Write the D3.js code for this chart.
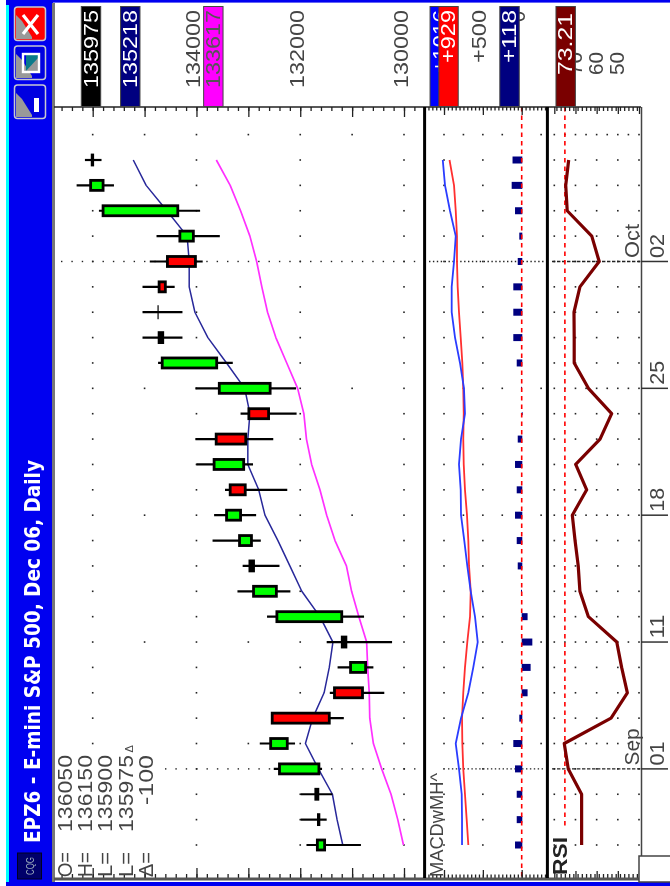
<!DOCTYPE html>
<html><head><meta charset="utf-8">
<script src="https://cdnjs.cloudflare.com/ajax/libs/d3/7.8.5/d3.min.js"></script>
<style>html,body{margin:0;padding:0;background:#fff;overflow:hidden}svg{display:block;filter:blur(.4px)}text{font-family:"Liberation Sans",Arial,sans-serif}</style>
</head><body><svg id="c" width="670" height="886"></svg>
<script>
// ---------- data (oldest to newest) ----------
const dates=["Aug 29","Aug 30","Aug 31","Sep 01","Sep 05","Sep 06","Sep 07","Sep 08","Sep 11","Sep 12","Sep 13","Sep 14","Sep 15","Sep 18","Sep 19","Sep 20","Sep 21","Sep 22","Sep 25","Sep 26","Sep 27","Sep 28","Sep 29","Oct 02","Oct 03","Oct 04","Oct 05","Oct 06"];
const opens =[131530,131650,131700,131640,132250,132540,131340,130740,131190,131200,132460,132900,132940,133150,133350,133090,133620,132990,132580,133610,134720,134740,134720,134560,134060,134360,135800,136010];
const highs =[131880,131990,131990,132510,132780,132540,131430,131280,131490,132640,133210,133110,133690,133660,133450,134000,134020,133150,134020,134740,135040,135040,135040,134900,134770,135880,136310,136150];
const lows  =[130830,131490,131380,131580,132100,131160,130380,130590,130230,130770,132190,132400,132760,132850,132250,132910,132520,132070,132080,133300,134270,134270,134420,133880,133550,133930,135590,135830];
const closes=[131670,131640,131660,132400,132570,131440,130800,131030,131120,132450,132900,132970,133170,133420,133060,133660,133050,132610,133560,134660,134650,134740,134600,134020,134320,135800,136040,136000];
const maFast=[131180,131290,131380,131650,131900,131760,131540,131440,131370,131620,131970,132200,132430,132680,132800,133010,133010,132970,133070,133420,133780,134030,134140,134140,134180,134570,134970,135218];
const maSlow=[130010,130120,130250,130430,130590,130660,130670,130700,130720,130870,131010,131110,131330,131490,131620,131780,131880,131930,132050,132260,132470,132630,132740,132840,132970,133150,133350,133617];
const macdLine=[768,768,772,807,849,781,687,623,566,601,656,700,739,781,785,807,781,730,743,794,858,901,901,871,849,923,987,1016];
const macdSignal=[687,708,730,752,764,768,752,730,700,665,656,678,687,704,730,746,752,746,752,764,785,807,824,833,833,849,871,929];
const macdHist=[86,64,64,86,108,31,-68,-107,-129,-68,9,51,64,86,64,86,51,-4,9,64,108,108,108,51,31,86,129,118];
const rsiValues=[67.1,67.1,67.1,73.4,75.3,53.2,45.5,48.2,50.5,63.9,67.9,68.7,70.2,71.5,64.7,69.9,58.4,52.9,63.9,70.6,70.6,70.7,67.9,58.8,62.3,73.9,74.6,73.21];
const priceTickLabels=["134000","132000","130000"];
const macdTickLabels=["+500","0"];
const rsiTickLabels=["70","60","50"];
const dateLabels=[["Oct 02","02","Oct"],["Sep 25","25",""],["Sep 18","18",""],["Sep 11","11",""],["Sep 01","01","Sep"]];
const legendNames=["O=","H=","L=","L=","Δ="];
const legendValues=["136050","136150","135900","135975","-100"];
const titleText="EPZ6 - E-mini S&P 500, Dec 06, Daily";

// ---------- scales ----------
const svg=d3.select("#c");
const T=d3.scalePoint().domain(dates).range([845,160]);
const P=d3.scaleLinear().domain([130000,136000]).range([404,92.7]);
const M=d3.scaleLinear().domain([0,1000]).range([521.7,444]);
const R=d3.scaleLinear().domain([40,80]).range([639,554.3]);
const TOP=107,BOT=878,INK="#444";
const rowY=[134.6].concat(dates.map(d=>T(d)));
const weekRows=[134.6,T("Sep 25"),T("Sep 18"),T("Sep 11"),T("Sep 05")];

function vt(x,y,s,o={}){
  const t=svg.append("text").attr("transform",`translate(${x},${y}) rotate(-90)`)
    .attr("font-size",o.size||19.5).attr("fill",o.fill||INK).attr("font-weight",o.weight||"normal").text(s);
  if(o.len)t.attr("textLength",o.len).attr("lengthAdjust","spacingAndGlyphs");
  if(o.family)t.style("font-family",o.family);
  return t;
}
// ---------- window frame ----------
svg.append("rect").attr("x",6).attr("y",0).attr("width",664).attr("height",2.6).attr("fill","#0000f0");
svg.append("rect").attr("x",6).attr("y",2).attr("width",47).attr("height",884).attr("fill","#0000f0");
svg.append("rect").attr("x",6).attr("y",5).attr("width",3).attr("height",877).attr("fill","#00ffff");
svg.append("rect").attr("x",6).attr("y",882).attr("width",664).attr("height",4).attr("fill","#0000f0");
svg.append("rect").attr("x",52).attr("y",3).attr("width",3).attr("height",879).attr("fill","#777");

// ---------- dot grid ----------
const priceCols=[136000,134000,132000,130000], priceWeek=[135000,133000,131000];
const macdCols=[1000,500], macdWeek=[750,250,-250];
const rsiCols=[80,70,60,50,40], rsiWeek=[75,65,55,45];
const dotData=[];
rowY.forEach(y=>{
  const wk=weekRows.includes(y);
  priceCols.concat(wk?priceWeek:[]).forEach(v=>dotData.push([P(v),y]));
  macdCols.concat(wk?macdWeek:[]).forEach(v=>dotData.push([M(v),y]));
  rsiCols.concat(wk?rsiWeek:[]).forEach(v=>dotData.push([R(v),y]));
});
svg.append("g").selectAll("rect").data(dotData.filter(d=>!(d[0]<160&&d[1]>738&&(d[1]>750||d[0]>120)))).join("rect")
  .attr("x",d=>d[0]-.8).attr("y",d=>d[1]-.8).attr("width",1.6).attr("height",1.6).attr("fill","#222");

// ---------- dotted date rows ----------
[["Oct 02",61.7,429],["Sep 01",165.7,448]].forEach(([d,x0,m0])=>{
  const y=T(d);
  const pv=d3.range(P.invert(x0),P.invert(415),-200);
  svg.append("g").selectAll("rect").data(pv).join("rect").attr("x",v=>P(v)-.7).attr("y",y-.7).attr("width",1.4).attr("height",1.4).attr("fill","#222");
  svg.append("line").attr("x1",m0).attr("x2",545).attr("y1",y).attr("y2",y).attr("stroke","#222").attr("stroke-width",1.3).attr("stroke-dasharray","1.4,2.5");
  svg.append("line").attr("x1",552).attr("x2",641).attr("y1",y).attr("y2",y).attr("stroke","#222").attr("stroke-width",1.3).attr("stroke-dasharray","3.4,1.6");
});

// ---------- reference lines ----------
svg.append("line").attr("x1",R(75)).attr("x2",R(75)).attr("y1",TOP).attr("y2",828).attr("stroke","#f00").attr("stroke-width",1.6).attr("stroke-dasharray","4.5,4");

// ---------- lines ----------
function vline(arr,sc,color,w){
  svg.append("path").datum(arr).attr("fill","none").attr("stroke",color).attr("stroke-width",w).attr("stroke-linejoin","round")
    .attr("d",d3.line().x(v=>sc(v)).y((v,i)=>T(dates[i])));
}
vline(maSlow,P,"#ff30ff",1.7);

// MACD histogram
svg.append("g").selectAll("rect").data(macdHist).join("rect")
  .attr("x",v=>Math.min(M(v),M(0)))
  .attr("width",v=>Math.max(1,Math.abs(M(v)-M(0))+(Math.abs(v)>15?.6:0)))
  .attr("y",(v,i)=>T(dates[i])-(Math.abs(v)<15?1.5:3.5)).attr("height",v=>Math.abs(v)<15?3:7).attr("fill","#000080");
svg.append("line").attr("x1",M(0)).attr("x2",M(0)).attr("y1",TOP).attr("y2",BOT).attr("stroke","#f00").attr("stroke-width",1.6).attr("stroke-dasharray","4.5,4");
vline(macdSignal,M,"#ff3030",1.8);
vline(macdLine,M,"#2a3cff",1.8);
vline(rsiValues,R,"#7a0000",3.2);
vline(maFast,P,"#28289a",1.5);

// ---------- candlesticks ----------
const bars=dates.map((d,i)=>({d,o:opens[i],h:highs[i],l:lows[i],c:closes[i]}));
const gc=svg.append("g");
gc.selectAll("line").data(bars).join("line").attr("x1",b=>P(b.h)).attr("x2",b=>P(b.l)).attr("y1",b=>T(b.d)).attr("y2",b=>T(b.d)).attr("stroke","#000").attr("stroke-width",2.2);
gc.selectAll("rect").data(bars).join("rect")
  .attr("x",b=>P(Math.max(b.o,b.c))-(b.o===b.c?.6:0)).attr("width",b=>Math.max(Math.abs(P(b.o)-P(b.c)),b.o===b.c?1.2:0))
  .attr("y",b=>T(b.d)-(b.o===b.c?7:5)).attr("height",b=>b.o===b.c?14:10)
  .attr("fill",b=>Math.abs(b.o-b.c)<100?"#000":(b.c>b.o?"#00ff00":"#ff0000"))
  .attr("stroke","#000").attr("stroke-width",b=>b.o===b.c?0:2.8);

// ---------- axes ----------
function tickAxis(sc,vals,size,gen,y){
  const g=svg.append("g").attr("transform",`translate(0,${y})`).call(gen(sc).tickValues(vals).tickSize(size).tickFormat(""));
  g.select(".domain").remove();
  g.selectAll("line").attr("stroke","#222").attr("stroke-width",1.3);
}
[[d3.axisBottom,TOP],[d3.axisTop,BOT]].forEach(([gen,y])=>{
  tickAxis(P,d3.range(129800,136601,200),4,gen,y);
  tickAxis(P,d3.range(130000,136001,1000),10,gen,y);
  tickAxis(M,d3.range(-300,1201,50),3.5,gen,y);
  tickAxis(M,d3.range(0,1001,500),8,gen,y);
  tickAxis(R,d3.range(41,80,2),4,gen,y);
  tickAxis(R,d3.range(40,81,10),7,gen,y);
});
svg.append("line").attr("x1",54).attr("x2",641).attr("y1",TOP).attr("y2",TOP).attr("stroke","#222").attr("stroke-width",1.6);
svg.append("line").attr("x1",54).attr("x2",641).attr("y1",BOT+1).attr("y2",BOT+1).attr("stroke","#555").attr("stroke-width",3);
[424.6,547.4].forEach(x=>svg.append("line").attr("x1",x).attr("x2",x).attr("y1",TOP).attr("y2",BOT).attr("stroke","#000").attr("stroke-width",3));
svg.append("line").attr("x1",641.5).attr("x2",641.5).attr("y1",TOP).attr("y2",857).attr("stroke","#444").attr("stroke-width",1.5);

// ---------- date axis ----------
dateLabels.forEach(([d,num,mon])=>{
  const y=T(d);
  svg.append("line").attr("x1",641).attr("x2",668).attr("y1",y).attr("y2",y).attr("stroke","#333").attr("stroke-width",1.5);
  vt(663.5,y-3.5,num,{len:24});
  if(mon)vt(638.5,y-3.5,mon,{len:mon==="Oct"?34:37});
});
svg.append("rect").attr("x",639).attr("y",856).attr("width",33).attr("height",26).attr("fill","#fff").attr("stroke","#444").attr("stroke-width",1.5);

// ---------- value scale labels ----------
priceTickLabels.forEach(s=>vt(P(+s)+3.5,88,s,{len:78}));
vt(M(500)+3.5,63,macdTickLabels[0],{len:53});
vt(M(0)+3.5,22,macdTickLabels[1],{len:11});
rsiTickLabels.forEach(s=>vt(R(+s)+6.5,75,s,{len:23}));

function box(center,fill,txt,txtFill,start,len){
  svg.append("rect").attr("x",center-9.7).attr("y",6.5).attr("width",19.4).attr("height",100).attr("fill",fill).attr("stroke","#444").attr("stroke-width",1);
  if(txt)vt(center+6.8,start,txt,{len,fill:txtFill});
}
box(P(135975)-3,"#000","135975","#fff",88,78);
box(P(135218)-3,"#000080","135218","#fff",88,78);
box(P(133617)-3,"#ff00ff","133617","#555",88,78);
box(M(1016)-3,"#0000ff","+1016","#fff",73,63);
box(M(929)-1,"#ff0000","+929","#fff",63,53);
box(M(118)-3,"#000080","+118","#fff",63,53);
box(R(73.21)-3,"#7a0000","73.21","#fff",75,62);

// ---------- legend ----------
const legendX=[71.7,91.7,112.3,133,153];
legendNames.forEach((n,i)=>{
  vt(legendX[i],877,n,{len:25});
  const s=legendValues[i];
  vt(legendX[i],s.length===6?832:805,s,{len:s.length===6?77:50});
});
vt(133,752.5,"Δ",{size:11});
vt(443,877,"MACDwMH^",{size:18,len:104});
vt(567,875,"RSI",{size:20,len:38,weight:"bold",fill:"#222"});

// ---------- title bar ----------
vt(40,843,titleText,{size:21,len:383,fill:"#fff",weight:"bold",family:"'DejaVu Sans'"});
svg.append("rect").attr("x",17.5).attr("y",853).attr("width",24).attr("height",26).attr("fill","#00006a").attr("stroke","#002").attr("stroke-width",1);
vt(34,875,"CQG",{size:11,len:18,fill:"#9ab"});

// ---------- window buttons ----------
[[7,"#ff0000"],[46,"#0000e0"],[85,"#0000e0"]].forEach(([y,f])=>{
  svg.append("rect").attr("x",14.5).attr("y",y).attr("width",31).attr("height",33.5).attr("rx",3).attr("fill",f).attr("stroke","#c8c8d0").attr("stroke-width",1.5);
  svg.append("path").attr("d",`M16,${y+8}L22,${y+14}L32,${y+30}L32,${y+32}L16,${y+32}Z`).attr("fill","#999");
});
svg.append("path").attr("d","M23,15L38,34M38,15L23,34").attr("stroke","#fff").attr("stroke-width",3.2).attr("fill","none");
svg.append("rect").attr("x",26).attr("y",54).attr("width",12).attr("height",17).attr("fill","#0a7a8a");
svg.append("path").attr("d","M26,71L38,71L38,58Z").attr("fill","#999");
svg.append("rect").attr("x",23).attr("y",54).attr("width",16).attr("height",18).attr("fill","none").attr("stroke","#fff").attr("stroke-width",2.4);
svg.append("rect").attr("x",34).attr("y",98).attr("width",5).attr("height",14).attr("fill","#fff");
</script></body></html>
